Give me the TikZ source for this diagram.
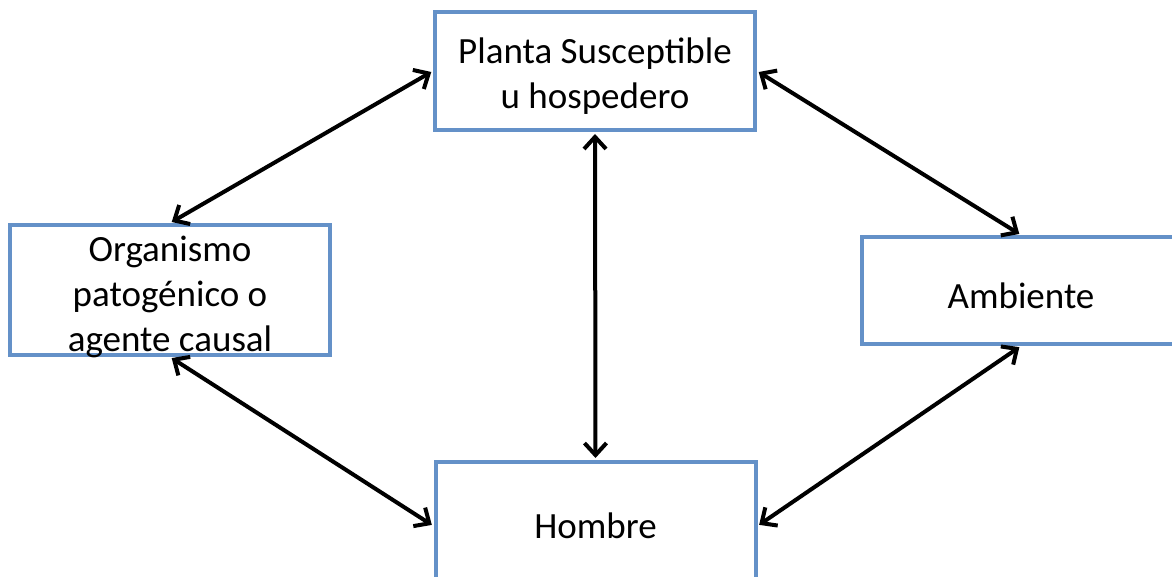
\documentclass[tikz,border=0pt]{standalone}
\usepackage{fontspec}
\setmainfont{Carlito}
\usetikzlibrary{arrows.meta}
\definecolor{boxblue}{RGB}{100,145,200}
\tikzset{
  box/.style={draw=boxblue, line width=4pt, fill=white, inner sep=0pt},
  lbl/.style={align=center, inner sep=0pt, font=\fontsize{37}{45}\selectfont},
  link/.style={line width=4pt, {Straight Barb[length=12pt,width=22pt,line width=4pt]}-{Straight Barb[length=12pt,width=22pt,line width=4pt]}, shorten <=2pt, shorten >=2pt}
}
\begin{document}
\begin{tikzpicture}[x=1pt,y=-1pt]
\useasboundingbox (0,0) rectangle (1172,577);
\clip (0,0) rectangle (1172,577);
\node[box, minimum width=320pt, minimum height=118pt,
  label={[lbl, yshift=-5pt]center:Planta Susceptible\\u hospedero}] (planta) at (595,71) {};
\node[box, minimum width=320pt, minimum height=130pt,
  label={[lbl, yshift=-7pt]center:Organismo\\patogénico o\\agente causal}] (org) at (170,290) {};
\node[box, minimum width=318pt, minimum height=107pt,
  label={[lbl, yshift=-5pt]center:Ambiente}] (amb) at (1021,290.5) {};
\node[box, minimum width=320pt, minimum height=128pt,
  label={[lbl]center:Hombre}] (hom) at (595.5,526) {};
\draw[link] (planta.west) -- (org.north);
\draw[link] (planta.east) -- (amb.north);
\draw[link] (planta.south) -- (hom.north);
\draw[link] (org.south) -- (hom.west);
\draw[link] (amb.south) -- (hom.east);
\end{tikzpicture}
\end{document}
